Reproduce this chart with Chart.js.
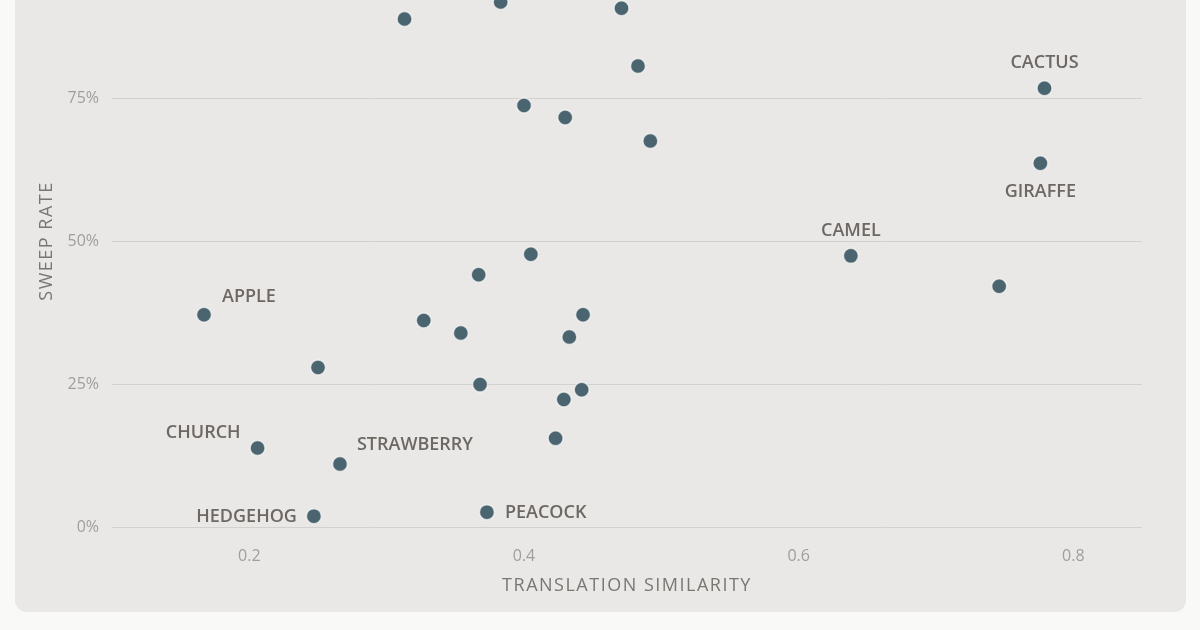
<!DOCTYPE html>
<html>
<head>
<meta charset="utf-8">
<script src="https://cdn.jsdelivr.net/npm/chart.js@4/dist/chart.umd.min.js"></script>
<style>
html, body { margin:0; padding:0; background:#f9f9f8; width:1200px; height:630px; overflow:hidden }
#card { position:absolute; left:15px; top:-80px; width:1171px; height:692px; background:#e9e8e6; border-radius:12px }
canvas { display:block }
</style>
</head>
<body>
<div id="card"><canvas id="chart" width="1171" height="692"></canvas></div>
<script>
// words
const names = ['', '', '', '', '', '', '', 'CACTUS', 'GIRAFFE', 'CAMEL', '',
  '', '', '', '', '', '', '', '', '', '', '',
  'APPLE', 'CHURCH', 'STRAWBERRY', 'HEDGEHOG', 'PEACOCK']
const similarity = [0.313, 0.383, 0.471, 0.483, 0.400, 0.430, 0.492, 0.779, 0.776, 0.638, 0.746,
  0.405, 0.367, 0.443, 0.327, 0.354, 0.433, 0.250, 0.368, 0.442, 0.429, 0.423,
  0.167, 0.206, 0.266, 0.247, 0.373]
const sweepRate = [88.8, 91.8, 90.7, 80.6, 73.7, 71.6, 67.5, 76.7, 63.6, 47.4, 42.1,
  47.7, 44.1, 37.1, 36.1, 33.9, 33.2, 27.9, 24.9, 24.0, 22.3, 15.5,
  37.1, 13.8, 11.0, 1.9, 2.6]
const xTicks = [0.2, 0.4, 0.6, 0.8]
const yTicks = [0, 25, 50, 75, 100]

// where each name sits next to its dot
const placement = {
  CACTUS:     {dx: 0,   dy: -25, align: 'center'},
  GIRAFFE:    {dx: 0,   dy: 29,  align: 'center'},
  CAMEL:      {dx: 0,   dy: -25, align: 'center'},
  APPLE:      {dx: 18,  dy: -18, align: 'left'},
  CHURCH:     {dx: -17, dy: -15, align: 'right'},
  STRAWBERRY: {dx: 17,  dy: -19, align: 'left'},
  HEDGEHOG:   {dx: -17, dy: 1,   align: 'right'},
  PEACOCK:    {dx: 18,  dy: 1,   align: 'left'}
}

const points = similarity.map((x, i) => ({x: x, y: sweepRate[i]}))

// axis titles are letter-spaced, tick labels are not
function spacedTitle(s){
  if(s._wrapped) return
  s._wrapped = true
  const origTitle = s.drawTitle
  s.drawTitle = function(){
    this.ctx.save()
    this.ctx.letterSpacing = '1.5px'
    origTitle.call(this)
    this.ctx.restore()
  }
}

const nameLabels = {
  id: 'nameLabels',
  afterDatasetsDraw(chart){
    const ctx = chart.ctx
    const meta = chart.getDatasetMeta(0)
    ctx.save()
    ctx.font = '600 18px "Open Sans"'
    ctx.fillStyle = '#6d6863'
    ctx.textBaseline = 'middle'
    names.forEach((n, i) => {
      if(!n) return
      const p = placement[n]
      const el = meta.data[i]
      ctx.textAlign = p.align
      ctx.fillText(n, el.x + p.dx, el.y + p.dy)
    })
    ctx.restore()
  }
}

const ctx = document.getElementById('chart').getContext('2d')
new Chart(ctx, {
  type: 'scatter',
  data: {datasets: [{
    data: points,
    backgroundColor: '#4a6470',
    borderColor: 'rgba(250,250,248,0.7)',
    borderWidth: 1.5,
    pointRadius: 7.5,
    pointHoverRadius: 7.5
  }]},
  options: {
    responsive: false,
    animation: false,
    layout: {padding: {top: 35, right: 44, bottom: 0, left: 0}},
    plugins: {legend: {display: false}, tooltip: {enabled: false}},
    scales: {
      x: {
        type: 'linear', min: 0.1, max: 0.85,
        afterBuildTicks: s => { s.ticks = xTicks.map(v => ({value: v})) },
        afterFit: s => { s.height = 85; spacedTitle(s) },
        grid: {display: false},
        border: {display: false},
        ticks: {padding: 12, color: '#a09e9b', font: {family: 'Open Sans', size: 16}, callback: v => v.toFixed(1)},
        title: {display: true, text: 'TRANSLATION SIMILARITY', color: '#7a7672',
          font: {family: 'Open Sans', size: 18}, padding: {top: 0, bottom: 15}}
      },
      y: {
        min: 0, max: 100,
        afterBuildTicks: s => { s.ticks = yTicks.map(v => ({value: v})) },
        afterFit: s => { s.width = 97; spacedTitle(s) },
        grid: {color: '#d2d1ce', lineWidth: 1, drawTicks: false},
        border: {display: false},
        ticks: {padding: 13, color: '#a09e9b', font: {family: 'Open Sans', size: 16}, callback: v => v + '%'},
        title: {display: true, text: 'SWEEP RATE', color: '#7a7672',
          font: {family: 'Open Sans', size: 18}, padding: {top: 21, bottom: 0}}
      }
    }
  },
  plugins: [nameLabels]
})
</script>
</body>
</html>
